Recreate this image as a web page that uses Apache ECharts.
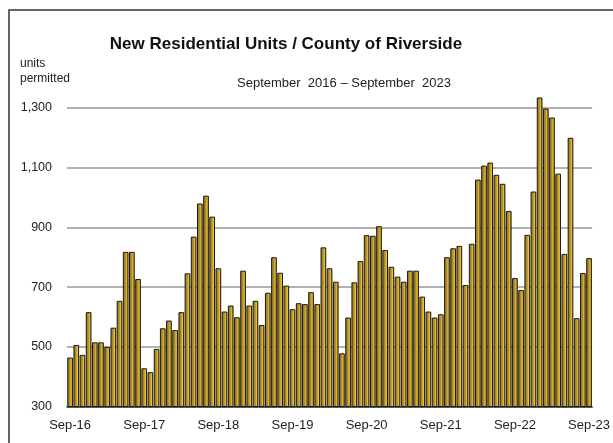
<!DOCTYPE html>
<html>
<head>
<meta charset="utf-8">
<script src="https://cdn.jsdelivr.net/npm/echarts@6/dist/echarts.min.js"></script>
<style>
html,body{margin:0;padding:0;background:#fff;}
#c{width:613px;height:443px;}
</style>
</head>
<body>
<div id="c"></div>
<script>
var monthNames = ['Sep','Oct','Nov','Dec','Jan','Feb','Mar','Apr','May','Jun','Jul','Aug'];
var startYears = ['16','17','18','19','20','21','22'];
var yTicks = [300, 500, 700, 900, 1100, 1300];
var units = [
  464, 506, 473, 616, 515, 515, 500, 564, 654, 818, 818, 727,
  428, 415, 493, 562, 588, 556, 616, 746, 869, 980, 1006, 936,
  763, 618, 638, 599, 755, 638, 654, 573, 681, 800, 748, 705,
  626, 646, 643, 683, 643, 833, 763, 718, 478, 598, 716, 787,
  874, 872, 904, 824, 768, 735, 718, 755, 755, 668, 618, 598,
  609, 800, 830, 838, 707, 845, 1060, 1107, 1117, 1076, 1046, 955,
  730, 690, 875, 1020, 1335, 1298, 1268, 1080, 811, 1200, 596, 747,
  797
];
var categories = [];
startYears.forEach(function (y) {
  var y2 = String(Number(y) + 1);
  monthNames.forEach(function (m, i) {
    categories.push(m + '-' + (i < 4 ? y : y2));
  });
});
categories.push('Sep-23');

var chart = echarts.init(document.getElementById('c'), null, {renderer: 'canvas'});
var font = '"Liberation Sans", Arial, sans-serif';
chart.setOption({
  animation: false,
  backgroundColor: '#fff',
  title: [
    {text: 'New Residential Units / County of Riverside', left: 281, top: 31, textAlign: 'center',
     textStyle: {fontFamily: font, fontSize: 17, fontWeight: 'bold', color: '#111'}},
    {text: 'September  2016 \u2013 September  2023', left: 339, top: 72, textAlign: 'center',
     textStyle: {fontFamily: font, fontSize: 13, fontWeight: 'normal', color: '#222'}},
    {text: 'units\npermitted', left: 15, top: 51,
     textStyle: {fontFamily: font, fontSize: 12, fontWeight: 'normal', color: '#222', lineHeight: 15}}
  ],
  graphic: [
    {type: 'rect', shape: {x: 9, y: 10, width: 700, height: 500}, style: {fill: 'none', stroke: '#333', lineWidth: 1.5}, silent: true}
  ],
  grid: {left: 67, right: 20, top: 96, bottom: 36.5, containLabel: false},
  xAxis: {
    type: 'category',
    data: categories,
    boundaryGap: true,
    axisLine: {show: true, lineStyle: {color: '#222', width: 1.5}},
    axisTick: {show: false},
    axisLabel: {interval: 11, margin: 12, fontFamily: font, fontSize: 13, color: '#222'},
    splitLine: {show: false}
  },
  yAxis: {
    type: 'value',
    min: yTicks[0],
    max: 1340,
    interval: yTicks[1] - yTicks[0],
    axisLine: {show: false},
    axisTick: {show: false},
    axisLabel: {
      margin: 15, fontFamily: font, fontSize: 12.5, color: '#222', showMaxLabel: false,
      formatter: function (v) { return yTicks.indexOf(v) >= 0 ? v.toLocaleString('en-US') : ''; }
    },
    splitLine: {show: true, showMinLine: false, showMaxLine: false, lineStyle: {color: '#999', width: 1.5}}
  },
  series: [{
    type: 'bar',
    data: units,
    barCategoryGap: '8%',
    itemStyle: {
      borderColor: '#1e1a0e',
      borderWidth: 1,
      color: new echarts.graphic.LinearGradient(0, 0, 1, 0, [
        {offset: 0, color: '#8a7130'},
        {offset: 0.45, color: '#ad8e33'},
        {offset: 0.72, color: '#f3c421'},
        {offset: 1, color: '#4f3d10'}
      ])
    }
  }]
});
</script>
</body>
</html>
